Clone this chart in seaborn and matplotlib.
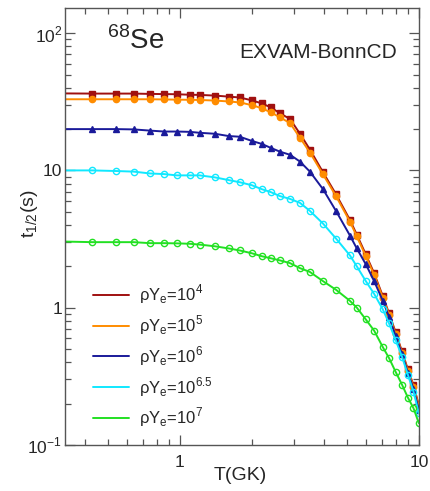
import matplotlib
matplotlib.use("Agg")
import numpy as np
import seaborn as sns
import matplotlib.pyplot as plt
from matplotlib.lines import Line2D
from matplotlib.ticker import NullFormatter, LogLocator

# temperature grid (GK)
T = [0.33, 0.43, 0.54, 0.64, 0.75, 0.86, 0.97, 1.1, 1.21, 1.4, 1.6, 1.78,
     2.0, 2.2, 2.4, 2.62, 2.89, 3.18, 3.5, 3.97, 4.5, 5.15, 5.5, 6.0, 6.5,
     7.07, 7.5, 8.0, 8.5, 9.0, 9.5, 10.0]

# half-lives (s) for each rho*Ye
t_1e4 = [36.4, 36.3, 36.3, 36.3, 36.1, 36.0, 35.9, 35.6, 35.5, 35.1, 34.5, 34.0,
         32.4, 30.8, 28.8, 26.1, 23.7, 18.5, 14.2, 9.7, 6.7, 4.35, 3.4, 2.44,
         1.78, 1.21, 0.91, 0.66, 0.48, 0.355, 0.272, 0.195]
t_1e5 = [33.0, 33.0, 33.0, 33.0, 33.0, 32.9, 32.8, 32.7, 32.6, 32.3, 31.8, 31.3,
         29.9, 28.4, 26.5, 24.4, 22.1, 17.3, 13.5, 9.36, 6.5, 4.23, 3.3, 2.37,
         1.73, 1.18, 0.89, 0.64, 0.47, 0.347, 0.266, 0.191]
t_1e6 = [20.0, 20.0, 20.0, 19.9, 19.5, 19.2, 19.2, 19.1, 18.8, 18.5, 17.8, 17.6,
         16.4, 15.6, 14.6, 13.7, 13.0, 11.6, 9.8, 7.3, 5.07, 3.35, 2.7, 2.07,
         1.56, 1.12, 0.86, 0.62, 0.46, 0.335, 0.257, 0.18]
t_1e65 = [10.0, 10.0, 9.9, 9.8, 9.5, 9.4, 9.2, 9.2, 9.2, 8.9, 8.5, 8.2,
          7.8, 7.3, 6.95, 6.5, 6.2, 5.8, 5.07, 4.1, 3.19, 2.4, 2.0, 1.56,
          1.26, 0.97, 0.77, 0.58, 0.44, 0.324, 0.244, 0.17]
t_1e7 = [3.03, 3.0, 3.0, 3.0, 2.95, 2.95, 2.94, 2.92, 2.88, 2.8, 2.7, 2.61,
         2.49, 2.37, 2.29, 2.21, 2.11, 1.94, 1.82, 1.56, 1.35, 1.12, 1.0, 0.82,
         0.68, 0.515, 0.43, 0.34, 0.275, 0.221, 0.185, 0.144]

labels = [r"ρY$_\mathregular{e}$=10$^\mathregular{4}$",
          r"ρY$_\mathregular{e}$=10$^\mathregular{5}$",
          r"ρY$_\mathregular{e}$=10$^\mathregular{6}$",
          r"ρY$_\mathregular{e}$=10$^\mathregular{6.5}$",
          r"ρY$_\mathregular{e}$=10$^\mathregular{7}$"]
series = [t_1e4, t_1e5, t_1e6, t_1e65, t_1e7]
colors = ["#a01010", "#ff8c00", "#1a1a9a", "#10e8ff", "#22e022"]
markers = ["s", "o", "^", "o", "o"]
filled = [True, True, True, False, False]

sns.set_style("ticks")
plt.rcParams["font.family"] = ["Liberation Sans", "DejaVu Sans"]
plt.rcParams["mathtext.fontset"] = "custom"
plt.rcParams["mathtext.rm"] = "Liberation Sans"

fig = plt.figure(figsize=(4.3, 4.91), dpi=100)
ax = fig.add_axes([0.151, 0.094, 0.823, 0.890])

for vals, c, m, f, lab in zip(series, colors, markers, filled, labels):
    sns.lineplot(x=T, y=vals, ax=ax, color=c, lw=1.4, marker=m,
                 markersize=4.5, markevery=slice(1, None),
                 markerfacecolor=c if f else "none", markeredgecolor=c,
                 markeredgewidth=1.0, label=lab, legend=False)

ax.set_xscale("log")
ax.set_yscale("log")
ax.set_xlim(0.33, 10)
ax.set_ylim(0.1, 153)

ax.set_xticks([1, 10])
ax.set_xticklabels(["1", "10"])
ax.set_yticks([0.1, 1, 10, 100])
ax.set_yticklabels([r"10$^\mathregular{-1}$", "1", "10", r"10$^\mathregular{2}$"])
ax.xaxis.set_minor_locator(LogLocator(base=10, subs=np.arange(2, 10)))
ax.yaxis.set_minor_locator(LogLocator(base=10, subs=np.arange(2, 10)))
ax.xaxis.set_minor_formatter(NullFormatter())
ax.yaxis.set_minor_formatter(NullFormatter())
ax.tick_params(which="both", direction="in", top=True, right=True,
               labelsize=12.5, width=0.9, color="#555555")
ax.tick_params(which="major", length=7)
ax.tick_params(which="minor", length=4)
ax.tick_params(axis="x", which="major", pad=7.5)
ax.tick_params(axis="y", which="major", pad=2)
for s in ax.spines.values():
    s.set_linewidth(1.0)
    s.set_color("#555555")

ax.set_xlabel("T(GK)", fontsize=14)
ax.xaxis.set_label_coords(0.495, -0.05)
ax.set_ylabel(r"t$_\mathregular{1/2}$(s)", fontsize=14)
ax.yaxis.set_label_coords(-0.07, 0.53)

ax.text(0.12, 0.905, r"$^\mathregular{68}$Se", transform=ax.transAxes,
        fontsize=20, ha="left", va="baseline")
ax.text(0.938, 0.886, "EXVAM-BonnCD", transform=ax.transAxes,
        fontsize=15, ha="right", va="baseline")

handles = [Line2D([0], [0], color=c, lw=1.4) for c in colors]
ax.legend(handles, labels, loc="lower left", bbox_to_anchor=(0.06, 0.02),
          frameon=False, fontsize=12, handlelength=2.2, handletextpad=0.6,
          labelspacing=0.43, borderaxespad=0)

fig.savefig("out.png", dpi=100)
